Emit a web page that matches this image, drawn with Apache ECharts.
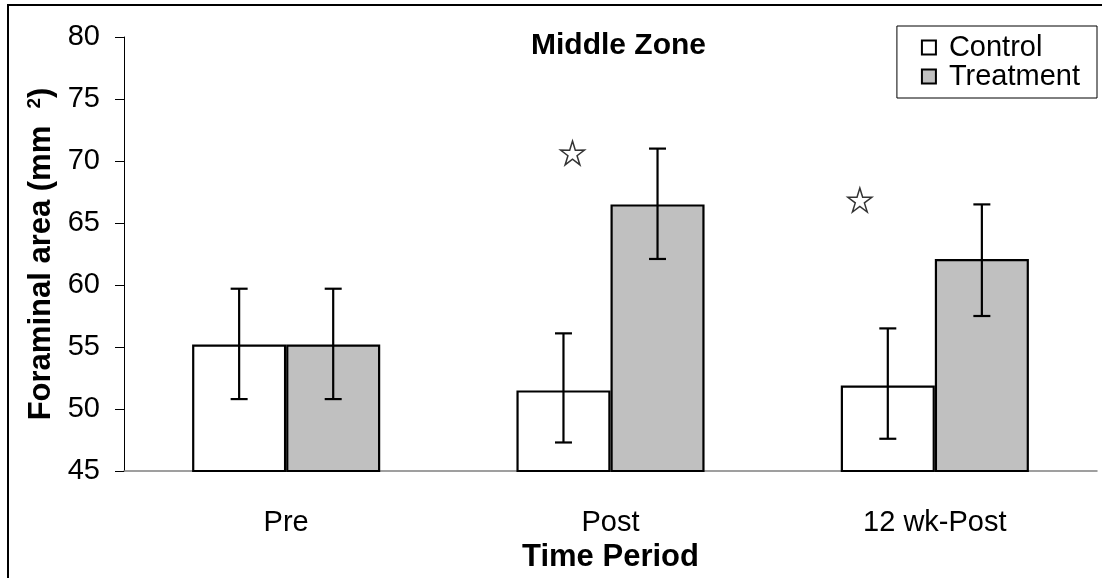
<!DOCTYPE html>
<html lang="en">

<head>
    <meta charset="UTF-8">
    <title>Middle Zone</title>
    <script src="https://cdn.jsdelivr.net/npm/echarts@6/dist/echarts.min.js"></script>
    <style>
        * {
            margin: 0;
            padding: 0
        }

        html,
        body {
            height: 100%;
            background: #fff;
        }
    </style>
</head>

<body>
    <div id="main" style="width:1102px;height:578px"></div>

    <script>
        var categories = ['Pre', 'Post', '12 wk-Post'];
        var controlVals = [55.2, 51.5, 51.9];
        var controlLow = [50.8, 47.3, 47.6];
        var controlHigh = [59.7, 56.1, 56.5];
        var treatVals = [55.2, 66.5, 62.1];
        var treatLow = [50.8, 62.1, 57.5];
        var treatHigh = [59.7, 71.0, 66.5];
        // significance stars: [category index, value]
        var stars = [[1, 70.65], [2, 66.85]];
        var yTicks = [45, 50, 55, 60, 65, 70, 75, 80];

        var FONT = 'Liberation Sans, Arial, sans-serif';
        var STAR = 'path://M50 0 L61.17 34.63 L97.55 34.55 L68.07 55.87 L79.39 90.45 L50 69 L20.61 90.45 L31.93 55.87 L2.45 34.55 L38.83 34.63 Z';

        function errData(low, high) {
            return categories.map(function (c, i) { return [i, low[i], high[i]]; });
        }

        function errorBar(side) {
            return function (params, api) {
                var band = api.size([1, 0])[0];
                var barW = band * 0.58 / 2;
                var x = api.coord([api.value(0), 0])[0] + side * barW / 2;
                var lo = api.coord([api.value(0), api.value(1)])[1];
                var hi = api.coord([api.value(0), api.value(2)])[1];
                var cap = 8.5;
                var st = { stroke: '#000', lineWidth: 2.2 };
                return {
                    type: 'group',
                    children: [
                        { type: 'line', shape: { x1: x, y1: lo, x2: x, y2: hi }, style: st },
                        { type: 'line', shape: { x1: x - cap, y1: hi, x2: x + cap, y2: hi }, style: st },
                        { type: 'line', shape: { x1: x - cap, y1: lo, x2: x + cap, y2: lo }, style: st }
                    ]
                };
            };
        }

        var chart = echarts.init(document.getElementById('main'));
        chart.setOption({
            animation: false,
            backgroundColor: '#fff',
            textStyle: { fontFamily: FONT },
            graphic: [{
                type: 'rect',
                shape: { x: 8, y: 5, width: 1200, height: 700 },
                style: { fill: 'none', stroke: '#000', lineWidth: 2 },
                silent: true
            }],
            title: {
                text: 'Middle Zone',
                left: 531,
                top: 31,
                padding: 0,
                textStyle: { fontFamily: FONT, fontWeight: 'bold', fontSize: 30, color: '#000' }
            },
            legend: {
                orient: 'vertical',
                right: 5,
                top: 26,
                padding: [7, 17, 7, 24],
                itemGap: 0,
                itemWidth: 14,
                itemHeight: 14,
                borderColor: '#000',
                borderWidth: 1,
                icon: 'rect',
                data: ['Control', 'Treatment'],
                textStyle: { fontFamily: FONT, fontSize: 29, color: '#000', lineHeight: 29, padding: [0, 0, 0, 8] }
            },
            grid: { left: 124, top: 37, right: 5, bottom: 107 },
            xAxis: {
                type: 'category',
                data: categories,
                name: 'Time Period',
                nameLocation: 'middle',
                nameGap: 60,
                nameTextStyle: { fontFamily: FONT, fontWeight: 'bold', fontSize: 31, color: '#000' },
                axisLine: { lineStyle: { color: '#808080', width: 1.5 } },
                axisTick: { length: 9, lineStyle: { color: '#000' } },
                axisLabel: { fontFamily: FONT, fontSize: 29, color: '#000', margin: 37 }
            },
            yAxis: {
                type: 'value',
                min: yTicks[0],
                max: yTicks[yTicks.length - 1],
                interval: 5,
                name: 'Foraminal area (mm  {sup|2})',
                nameLocation: 'middle',
                nameGap: 66,
                nameRotate: 90,
                nameTextStyle: {
                    fontFamily: FONT, fontWeight: 'bold', fontSize: 31, color: '#000',
                    rich: {
                        sup: { fontFamily: FONT, fontWeight: 'bold', fontSize: 19, color: '#000', verticalAlign: 'top', padding: [0, 0, 14, 0] }
                    }
                },
                splitLine: { show: false },
                axisLine: { show: true, lineStyle: { color: '#000', width: 1 } },
                axisTick: { show: true, length: 9, lineStyle: { color: '#000' } },
                axisLabel: { fontFamily: FONT, fontSize: 29, color: '#000', margin: 24 }
            },
            series: [{
                name: 'Control',
                type: 'bar',
                data: controlVals,
                barGap: '0%',
                barCategoryGap: '42%',
                itemStyle: { color: '#fff', borderColor: '#000', borderWidth: 2.2 }
            }, {
                name: 'Treatment',
                type: 'bar',
                data: treatVals,
                barGap: '0%',
                barCategoryGap: '42%',
                itemStyle: { color: '#c0c0c0', borderColor: '#000', borderWidth: 2.2 }
            }, {
                type: 'custom',
                renderItem: errorBar(-1),
                data: errData(controlLow, controlHigh),
                encode: { x: 0, y: [1, 2] },
                z: 5
            }, {
                type: 'custom',
                renderItem: errorBar(1),
                data: errData(treatLow, treatHigh),
                encode: { x: 0, y: [1, 2] },
                z: 5
            }, {
                type: 'scatter',
                symbol: STAR,
                symbolSize: 24,
                itemStyle: { color: '#fff', borderColor: '#000', borderWidth: 1.5 },
                data: [
                    { value: stars[0], symbolOffset: [-38, 0] },
                    { value: stars[1], symbolOffset: [-75, 0] }
                ],
                z: 6
            }]
        });
    </script>
</body>

</html>
